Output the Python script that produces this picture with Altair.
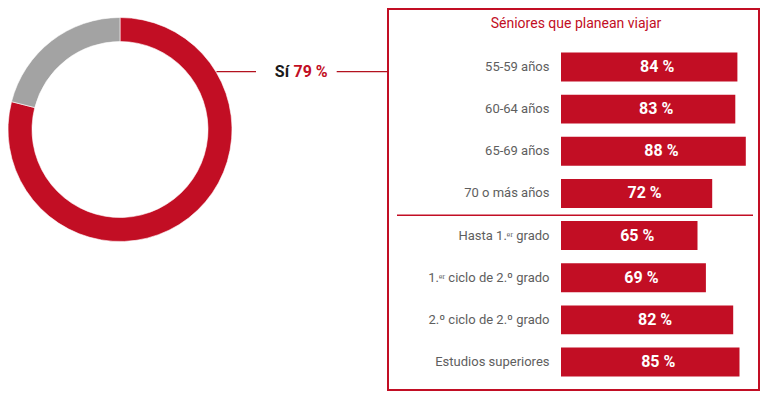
import altair as alt
import pandas as pd

RED = "#c20e24"
GRAY = "#a3a3a3"
FONT = "Roboto"

donut_labels = ["Sí", "No"]
donut_values = [79, 21]
donut_colors = [RED, GRAY]

title_text = ["Séniores que planean viajar"]
callout_word = ["Sí"]
callout_value = ["79 %"]

categories = [
    "55-59 años",
    "60-64 años",
    "65-69 años",
    "70 o más años",
    "Hasta 1.ᵉʳ grado",
    "1.ᵉʳ ciclo de 2.º grado",
    "2.º ciclo de 2.º grado",
    "Estudios superiores",
]
values = [84, 83, 88, 72, 65, 69, 82, 85]

donut_df = pd.DataFrame({"label": donut_labels, "value": donut_values, "order": [0, 1]})
bars_df = pd.DataFrame({"cat": categories, "val": values})
bars_df["mid"] = bars_df["val"] / 2
bars_df["lbl"] = bars_df["val"].astype(str) + " %"

x_scale = alt.Scale(domain=[0, 100], range=[553, 763])
y_scale = alt.Scale(domain=categories, range=[37.9, 375.1], paddingInner=0.312, paddingOuter=0.156)
Y = alt.Y("cat:N", scale=y_scale, axis=None, sort=categories)

donut = alt.Chart(donut_df).mark_arc(outerRadius=112, innerRadius=88, stroke="#ffffff", strokeWidth=0.6).encode(
    theta=alt.Theta("value:Q", stack=True),
    color=alt.Color("label:N", scale=alt.Scale(domain=donut_labels, range=donut_colors), legend=None),
    order=alt.Order("order:Q"),
    x=alt.value(112),
    y=alt.value(121.5),
)

box = alt.Chart(pd.DataFrame({"a": [0]})).mark_rect(fillOpacity=0, stroke=RED, strokeWidth=2).encode(
    x=alt.value(380), x2=alt.value(751), y=alt.value(1), y2=alt.value(382)
)

line_left = alt.Chart(pd.DataFrame({"a": [0]})).mark_rule(color="#b3121f", strokeWidth=1.3).encode(
    x=alt.value(208.5), x2=alt.value(248), y=alt.value(63.7)
)
line_right = alt.Chart(pd.DataFrame({"a": [0]})).mark_rule(color="#b3121f", strokeWidth=1.3).encode(
    x=alt.value(328.7), x2=alt.value(380), y=alt.value(63.7)
)
separator = alt.Chart(pd.DataFrame({"a": [0]})).mark_rule(color=RED, strokeWidth=1.5).encode(
    x=alt.value(389), x2=alt.value(745), y=alt.value(207.3)
)

title = alt.Chart(pd.DataFrame({"t": title_text})).mark_text(
    font=FONT, fontSize=14, color=RED, align="center", baseline="middle"
).encode(text="t:N", x=alt.value(568), y=alt.value(16))

sw = alt.Chart(pd.DataFrame({"t": callout_word})).mark_text(
    font=FONT, fontSize=16, fontWeight="bold", color="#1a1a1a", align="right", baseline="middle"
).encode(text="t:N", x=alt.value(281), y=alt.value(63.7))
sv = alt.Chart(pd.DataFrame({"t": callout_value})).mark_text(
    font=FONT, fontSize=16, fontWeight="bold", color=RED, align="left", baseline="middle"
).encode(text="t:N", x=alt.value(285.5), y=alt.value(63.7))

bars = alt.Chart(bars_df).mark_bar(color=RED).encode(
    x=alt.X("val:Q", scale=x_scale, axis=None), y=Y
)
cat_text = alt.Chart(bars_df).mark_text(
    font=FONT, fontSize=13, color="#5e5e5e", align="right", baseline="middle"
).encode(text="cat:N", x=alt.value(541.5), y=Y)
val_text = alt.Chart(bars_df).mark_text(
    font=FONT, fontSize=16, fontWeight="bold", color="#ffffff", align="center", baseline="middle", dx=8
).encode(text="lbl:N", x=alt.X("mid:Q", scale=x_scale, axis=None), y=Y)

chart = alt.layer(
    donut, box, line_left, line_right, separator, title, sw, sv, bars, cat_text, val_text
).properties(width=752, height=383, padding=0, autosize="none").configure_view(stroke=None)

chart.save("out.html", embed_options={"renderer": "svg", "actions": False})
